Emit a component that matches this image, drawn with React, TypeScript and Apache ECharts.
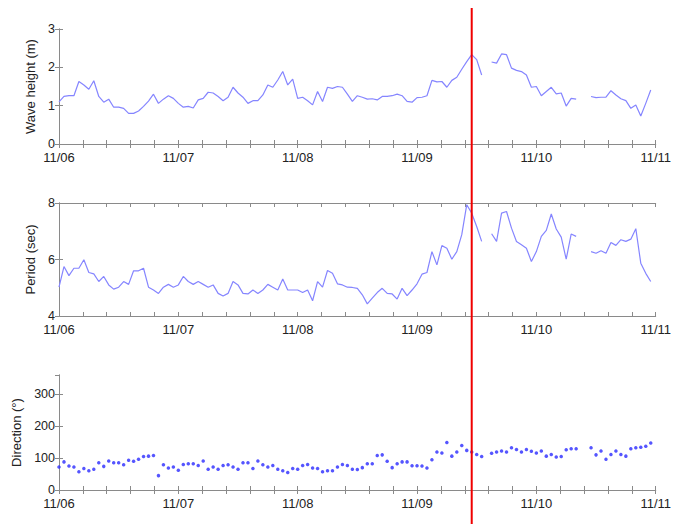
import React, { useEffect, useRef } from "react";
import * as echarts from "echarts";

// Hours since 11/06 00:00 (hourly records), 120 records
const dayLabels = ["11/06", "11/07", "11/08", "11/09", "11/10", "11/11"];
const eventHour = 83; // red marker line (11/09 ~11:00)

const waveHeight = [
  1.10, 1.24, 1.26, 1.26, 1.63, 1.54, 1.43, 1.65, 1.24, 1.09,
  1.17, 0.96, 0.96, 0.93, 0.80, 0.80, 0.86, 0.98, 1.12, 1.30,
  1.06, 1.17, 1.26, 1.19, 1.06, 0.96, 0.98, 0.94, 1.15, 1.19,
  1.35, 1.33, 1.24, 1.13, 1.22, 1.48, 1.33, 1.22, 1.06, 1.13,
  1.13, 1.28, 1.54, 1.48, 1.67, 1.89, 1.54, 1.69, 1.19, 1.22,
  1.13, 1.02, 1.37, 1.11, 1.48, 1.45, 1.50, 1.48, 1.30, 1.11,
  1.26, 1.22, 1.17, 1.18, 1.15, 1.24, 1.24, 1.26, 1.30, 1.26,
  1.11, 1.09, 1.21, 1.22, 1.26, 1.66, 1.62, 1.63, 1.48, 1.66,
  1.74, 1.95, 2.15, 2.33, 2.20, 1.80, null, 2.14, 2.11, 2.35,
  2.33, 1.98, 1.92, 1.89, 1.80, 1.48, 1.50, 1.26, 1.37, 1.48,
  1.31, 1.33, 0.99, 1.19, 1.17, null, null, 1.24, 1.21, 1.22,
  1.22, 1.39, 1.28, 1.18, 1.13, 0.93, 1.02, 0.73, 1.06, 1.41,
];

const period = [
  5.02, 5.75, 5.43, 5.69, 5.69, 5.99, 5.54, 5.49, 5.22, 5.40,
  5.10, 4.95, 5.02, 5.22, 5.12, 5.60, 5.60, 5.69, 5.02, 4.92,
  4.80, 5.02, 5.12, 5.02, 5.10, 5.40, 5.22, 5.12, 5.22, 5.12,
  5.02, 5.10, 4.80, 4.71, 4.80, 5.22, 5.10, 4.80, 4.78, 4.92,
  4.80, 4.92, 5.12, 5.02, 4.92, 5.31, 4.92, 4.92, 4.92, 4.83,
  4.92, 4.54, 5.22, 5.02, 5.61, 5.51, 5.14, 5.10, 5.02, 5.01,
  4.98, 4.75, 4.43, 4.63, 4.83, 4.98, 4.80, 4.78, 4.60, 4.98,
  4.72, 4.92, 5.14, 5.48, 5.54, 6.28, 5.81, 6.49, 6.40, 6.01,
  6.28, 6.88, 7.94, 7.64, 7.17, 6.64, null, 6.91, 6.64, 7.64,
  7.70, 7.11, 6.64, 6.52, 6.40, 5.93, 6.28, 6.82, 7.03, 7.61,
  7.08, 6.79, 6.01, 6.90, 6.82, null, null, 6.28, 6.22, 6.31,
  6.22, 6.60, 6.50, 6.70, 6.64, 6.72, 7.09, 5.87, 5.51, 5.22,
];

const direction = [
  72, 88, 75, 72, 57, 67, 60, 65, 85, 74,
  91, 85, 85, 79, 93, 90, 96, 105, 106, 108,
  45, 79, 69, 72, 62, 80, 82, 82, 77, 91,
  65, 72, 65, 77, 79, 72, 65, 85, 85, 67,
  91, 79, 72, 77, 65, 60, 55, 67, 65, 77,
  80, 69, 67, 57, 60, 60, 72, 80, 77, 65,
  64, 70, 82, 82, 108, 110, 90, 70, 82, 88,
  88, 76, 76, 75, 69, 95, 119, 116, 149, 106,
  119, 139, 124, 119, 111, 105, null, 115, 119, 122,
  119, 132, 127, 119, 127, 121, 116, 122, 106, 111,
  103, 105, 126, 129, 129, null, null, 132, 110, 122,
  96, 111, 122, 111, 106, 129, 132, 134, 137, 147,
];

const FONT = "'Liberation Sans', Arial, sans-serif";
const AXIS_COLOR = "#8a8a8a";
const TEXT_COLOR = "#222";

export default function App() {
  const ref = useRef<HTMLDivElement>(null);

  useEffect(() => {
    document.body.style.margin = "0";
    if (!ref.current) return;
    const chart = echarts.init(ref.current, undefined, { renderer: "svg" });

    const grids = [
      { left: 59, right: 18, top: 29, height: 115 },
      { left: 59, right: 18, top: 203, height: 113 },
      { left: 59, right: 18, top: 375, height: 115 },
    ];

    const axisLine = { show: true, lineStyle: { color: AXIS_COLOR, width: 1 } };
    const tick = { show: true, inside: true, length: 4, lineStyle: { color: AXIS_COLOR } };

    const xAxes: any[] = [];
    grids.forEach((_, g) => {
      xAxes.push({
        type: "value",
        gridIndex: g,
        position: "bottom",
        min: 0,
        max: 120,
        interval: 24,
        axisLine,
        axisTick: tick,
        minorTick: { show: true, splitNumber: 5, length: 4, lineStyle: { color: AXIS_COLOR } },
        splitLine: { show: false },
        axisLabel: {
          color: TEXT_COLOR,
          fontFamily: FONT,
          fontSize: 13,
          margin: 7,
          formatter: (v: number) => dayLabels[Math.round(v / 24)] ?? "",
        },
      });
    });
    grids.forEach((_, g) => {
      xAxes.push({
        type: "value",
        gridIndex: g,
        position: "top",
        min: 0,
        max: 120,
        interval: 24,
        axisLine,
        axisTick: tick,
        minorTick: { show: true, splitNumber: 5, length: 4, lineStyle: { color: AXIS_COLOR } },
        splitLine: { show: false },
        axisLabel: { show: false },
      });
    });

    const yCfg = [
      { min: 0, max: 3, interval: 1, name: "Wave height (m)", gap: 19, showMax: true },
      { min: 4, max: 8, interval: 2, name: "Period (sec)", gap: 19, showMax: true },
      { min: 0, max: 360, interval: 100, name: "Direction (°)", gap: 32, showMax: false },
    ];
    const yAxes: any[] = [];
    yCfg.forEach((c, g) => {
      yAxes.push({
        type: "value",
        gridIndex: g,
        position: "left",
        min: c.min,
        max: c.max,
        interval: c.interval,
        name: c.name,
        nameLocation: "middle",
        nameGap: c.gap,
        nameRotate: 90,
        nameTextStyle: { color: TEXT_COLOR, fontFamily: FONT, fontSize: 13 },
        axisLine,
        axisTick: tick,
        splitLine: { show: false },
        axisLabel: {
          color: TEXT_COLOR,
          fontFamily: FONT,
          fontSize: 12.5,
          margin: 4,
          showMaxLabel: c.showMax,
        },
      });
    });
    yCfg.forEach((c, g) => {
      yAxes.push({
        type: "value",
        gridIndex: g,
        position: "right",
        min: c.min,
        max: c.max,
        interval: c.interval,
        axisLine,
        axisTick: tick,
        splitLine: { show: false },
        axisLabel: { show: false },
      });
    });

    const toXY = (arr: (number | null)[]) => arr.map((v, i) => [i, v]);

    chart.setOption({
      animation: false,
      backgroundColor: "#fff",
      grid: grids,
      xAxis: xAxes,
      yAxis: yAxes,
      series: [
        {
          type: "line",
          xAxisIndex: 0,
          yAxisIndex: 0,
          data: toXY(waveHeight),
          showSymbol: false,
          connectNulls: false,
          lineStyle: { color: "#8585ff", width: 1.2 },
          itemStyle: { color: "#8585ff" },
        },
        {
          type: "line",
          xAxisIndex: 1,
          yAxisIndex: 1,
          data: toXY(period),
          showSymbol: false,
          connectNulls: false,
          lineStyle: { color: "#8585ff", width: 1.2 },
          itemStyle: { color: "#8585ff" },
        },
        {
          type: "scatter",
          xAxisIndex: 2,
          yAxisIndex: 2,
          data: toXY(direction).filter((d) => d[1] !== null),
          symbol: "circle",
          symbolSize: 3.5,
          itemStyle: { color: "#2a2aff" },
        },
      ],
    });

    const px = chart.convertToPixel({ xAxisIndex: 0 }, eventHour) as number;
    chart.setOption({
      graphic: [
        {
          type: "line",
          z: 100,
          shape: { x1: px, y1: 8, x2: px, y2: 524 },
          style: { stroke: "#f00000", lineWidth: 2 },
        },
      ],
    });

    return () => chart.dispose();
  }, []);

  return <div ref={ref} style={{ width: 674, height: 525 }} />;
}
